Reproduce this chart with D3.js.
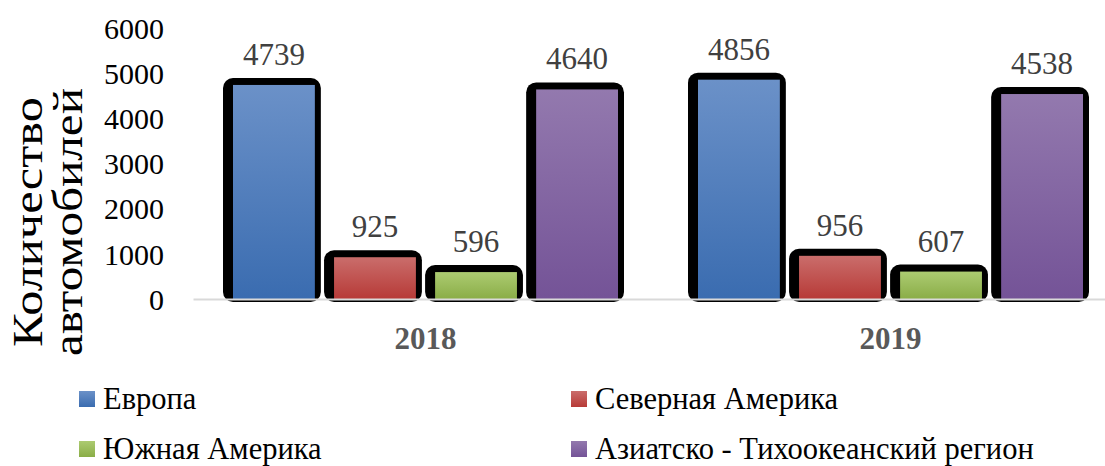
<!DOCTYPE html>
<meta charset="utf-8">
<body style="margin:0">
<svg width="1105" height="466"></svg>
<script src="https://d3js.org/d3.v7.min.js"></script>
<script>

var years = ["2018", "2019"];
var regions = ["Европа", "Северная Америка", "Южная Америка", "Азиатско - Тихоокеанский регион"];
var values2018 = [4739, 925, 596, 4640];
var values2019 = [4856, 956, 607, 4538];
var yTicks = [0, 1000, 2000, 3000, 4000, 5000, 6000];

var colorTop = ["#6b91c8", "#ca6d6b", "#accb71", "#9379ae"];
var colorBottom = ["#3a6cb0", "#b73a37", "#8aad47", "#745397"];

var FONT = "'Liberation Serif'";

var data = years.map(function(yr, i) {
  var vals = i == 0 ? values2018 : values2019;
  return { year: yr, bars: regions.map(function(r, j) { return { region: r, idx: j, value: vals[j] }; }) };
});

var svg = d3.select("svg");

var defs = svg.append("defs");
regions.forEach(function(r, j) {
  var g = defs.append("linearGradient")
      .attr("id", "grad" + j)
      .attr("x1", 0).attr("y1", 0).attr("x2", 0).attr("y2", 1);
  g.append("stop").attr("offset", "0%").attr("stop-color", colorTop[j]);
  g.append("stop").attr("offset", "100%").attr("stop-color", colorBottom[j]);
});

var y = d3.scaleLinear()
    .domain([0, 6000])
    .range([299, 28]);

var x0 = d3.scaleBand()
    .domain(years)
    .range([193, 1123]);

var x1 = d3.scaleBand()
    .domain(regions)
    .range([40, 425])
    .paddingInner(0.19);

// y axis labels
var yAxis = svg.append("g")
    .attr("transform", "translate(168,0)")
    .call(d3.axisLeft(y).tickValues(yTicks).tickFormat(d3.format("d")).tickSize(0).tickPadding(4));
yAxis.select(".domain").remove();
yAxis.selectAll("text")
    .style("font-family", FONT)
    .style("font-size", "30px")
    .attr("fill", "#000")
    .attr("dy", "0.34em");

// y title (stretched along its length like the original)
var yTitle = svg.append("text")
    .attr("transform", "translate(0,222) rotate(-90)")
    .attr("text-anchor", "middle")
    .style("font-family", FONT)
    .style("font-size", "42px")
    .attr("fill", "#000");
yTitle.append("tspan").attr("x", 0).attr("y", 42)
    .attr("textLength", 250).attr("lengthAdjust", "spacingAndGlyphs")
    .text("Количество");
yTitle.append("tspan").attr("x", 0).attr("y", 82)
    .attr("textLength", 268).attr("lengthAdjust", "spacingAndGlyphs")
    .text("автомобилей");

// bars
var groups = svg.selectAll(".grp")
  .data(data)
  .enter().append("g")
    .attr("class", "grp")
    .attr("transform", function(d) { return "translate(" + x0(d.year) + ",0)"; });

var bar = groups.selectAll(".bar")
  .data(function(d) { return d.bars; })
  .enter().append("g")
    .attr("class", "bar");

bar.append("rect")
    .attr("x", function(d) { return x1(d.region) - 10; })
    .attr("y", function(d) { return y(d.value) - 7; })
    .attr("width", x1.bandwidth() + 16)
    .attr("height", function(d) { return y(0) - y(d.value) + 10; })
    .attr("rx", 10)
    .attr("fill", "#000");

bar.append("rect")
    .attr("x", function(d) { return x1(d.region); })
    .attr("y", function(d) { return y(d.value); })
    .attr("width", x1.bandwidth())
    .attr("height", function(d) { return y(0) - y(d.value); })
    .attr("fill", function(d) { return "url(#grad" + d.idx + ")"; });

bar.append("text")
    .attr("x", function(d) { return x1(d.region) + x1.bandwidth() / 2; })
    .attr("y", function(d) { return y(d.value) - 20; })
    .attr("text-anchor", "middle")
    .style("font-family", FONT)
    .style("font-size", "31px")
    .attr("fill", "#404040")
    .text(function(d) { return d.value; });

// x axis
var xAxis = svg.append("g")
    .attr("transform", "translate(0," + y(0) + ")")
    .call(d3.axisBottom(x0).tickSize(0).tickSizeOuter(0).tickPadding(0));
xAxis.select(".domain")
    .attr("stroke", "#d9d9d9")
    .attr("stroke-width", 2);
xAxis.selectAll("text")
    .style("font-family", FONT)
    .style("font-size", "31px")
    .style("font-weight", "bold")
    .attr("fill", "#595959")
    .attr("dy", 0)
    .attr("y", 50);

// legend
var legendPos = [[79, 391], [571, 391], [79, 441], [571, 441]];
var legend = svg.selectAll(".legend")
  .data(regions)
  .enter().append("g")
    .attr("class", "legend")
    .attr("transform", function(d, i) { return "translate(" + legendPos[i][0] + "," + legendPos[i][1] + ")"; });

legend.append("rect")
    .attr("width", 16)
    .attr("height", 16)
    .attr("fill", function(d, i) { return "url(#grad" + i + ")"; });

legend.append("text")
    .attr("x", 24)
    .attr("y", 18)
    .style("font-family", FONT)
    .style("font-size", "30.5px")
    .attr("fill", "#000")
    .text(function(d) { return d; });

</script>
